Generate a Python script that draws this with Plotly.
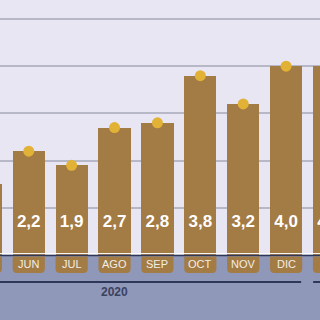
import plotly.graph_objects as go

months = ["MAY", "JUN", "JUL", "AGO", "SEP", "OCT", "NOV", "DIC", "ENE"]
values = [1.5, 2.2, 1.9, 2.7, 2.8, 3.8, 3.2, 4.0, 4.0]
dots = [1.5, 2.2, 1.9, 2.7, 2.8, 3.8, 3.2, 4.0, 4.0]
year_label = "2020"
grid_vals = [1, 2, 3, 4, 5]

BAR = "#A37B45"
DOT = "#E2B236"
BG = "#E8E6F2"
LOW = "#8F98B8"
NAVY = "#2E3758"
FONT = "Liberation Sans, Arial, sans-serif"

xs = list(range(len(months)))
labels = [f"{v:.1f}".replace(".", ",") for v in values]

fig = go.Figure()
fig.add_trace(go.Bar(x=xs, y=values, width=0.75, marker=dict(color=BAR, line=dict(width=0)),
                     hoverinfo="skip"))
fig.add_trace(go.Scatter(x=xs, y=dots, mode="markers",
                         marker=dict(color=DOT, size=11, line=dict(width=0)), hoverinfo="skip"))
fig.add_trace(go.Scatter(x=xs, y=[0.68] * len(xs), mode="text", text=labels,
                         textfont=dict(family=FONT, size=17, color="white", weight="bold"),
                         textposition="middle center", hoverinfo="skip"))

shapes = []
# lower band
shapes.append(dict(type="rect", xref="paper", x0=0, x1=1, yref="y", y0=-3, y1=-0.02,
                   fillcolor=LOW, line=dict(width=0), layer="below"))
# baseline lines
shapes.append(dict(type="line", xref="paper", x0=0, x1=1, yref="y", y0=0.03, y1=0.03,
                   line=dict(color="white", width=1)))
shapes.append(dict(type="line", xref="paper", x0=0, x1=1, yref="y", y0=-0.01, y1=-0.01,
                   line=dict(color=NAVY, width=1.5)))
# month pills
w, yt, yb, rx, ry = 0.375, -0.03, -0.38, 0.1, 0.09
for c in xs:
    p = (f"M {c-w},{yt} L {c+w},{yt} L {c+w},{yb+ry} Q {c+w},{yb} {c+w-rx},{yb} "
         f"L {c-w+rx},{yb} Q {c-w},{yb} {c-w},{yb+ry} Z")
    shapes.append(dict(type="path", path=p, xref="x", yref="y", fillcolor=BAR,
                       line=dict(width=0), layer="above"))
# year bracket lines
shapes.append(dict(type="line", xref="x", yref="y", x0=0, x1=7.35, y0=-0.572, y1=-0.572,
                   line=dict(color=NAVY, width=2)))
shapes.append(dict(type="line", xref="x", yref="y", x0=7.63, x1=9, y0=-0.572, y1=-0.572,
                   line=dict(color=NAVY, width=2)))

annotations = []
for c, m in zip(xs, months):
    annotations.append(dict(x=c, y=-0.2, text=m, showarrow=False, xref="x", yref="y",
                            font=dict(family=FONT, size=11, color="#F3EEE4")))
annotations.append(dict(x=3.0, y=-0.78, text=year_label, showarrow=False, xref="x", yref="y",
                        font=dict(family=FONT, size=12, color="#3A4262", weight="bold")))

fig.update_layout(
    width=320, height=320, margin=dict(l=0, r=0, t=0, b=0),
    paper_bgcolor=BG, plot_bgcolor=BG, showlegend=False,
    shapes=shapes, annotations=annotations, bargap=0,
    xaxis=dict(range=[0.33, 7.79], visible=False, fixedrange=True),
    yaxis=dict(range=[-1.377, 5.403], tickvals=grid_vals, showticklabels=False,
               showgrid=True, gridcolor="#B6B8C8", gridwidth=1.5, zeroline=False,
               fixedrange=True),
)

fig.write_html("out.html", config=dict(displayModeBar=False))
